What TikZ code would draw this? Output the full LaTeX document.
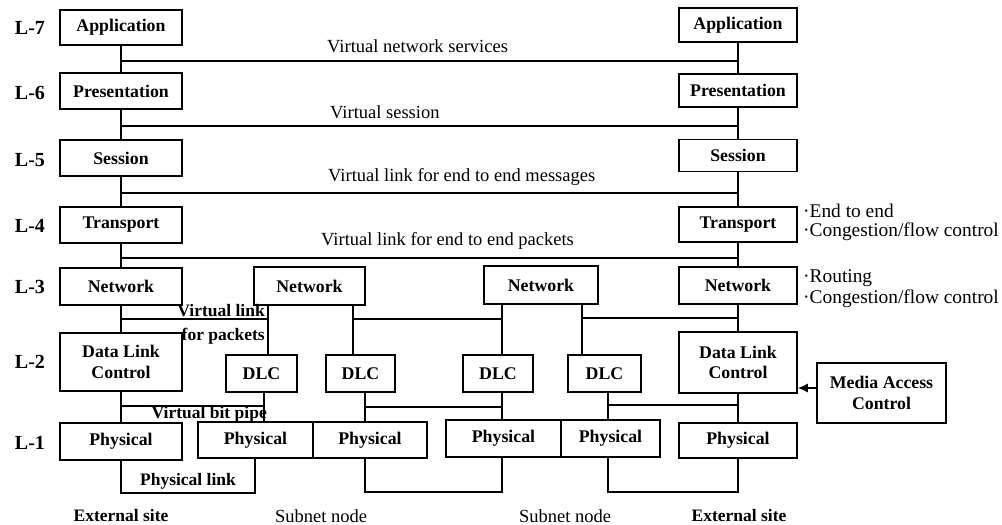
\documentclass[tikz,border=0pt]{standalone}
\usepackage{fontspec}
\setmainfont{Liberation Serif}
\usetikzlibrary{arrows.meta}
\begin{document}
\begin{tikzpicture}[x=1pt,y=-1pt,
  box/.style={draw, line width=1.5pt, inner sep=0pt, font=\fontsize{17.8}{20.5}\selectfont\bfseries, align=center},
  ln/.style={line width=1.5pt},
  lvl/.style={font=\fontsize{20}{22}\selectfont\bfseries, inner sep=0pt},
  vlab/.style={font=\fontsize{18.5}{20}\selectfont, anchor=west, inner sep=0pt},
  blab/.style={font=\fontsize{17.5}{20}\selectfont\bfseries, inner sep=0pt},
  rlab/.style={font=\fontsize{18.5}{20}\selectfont, inner sep=0pt},
  note/.style={font=\fontsize{19.4}{21}\selectfont, anchor=west, inner sep=0pt}
]
\useasboundingbox (0,0) rectangle (1002,525);

% left end system
\node[box, minimum width=122pt, minimum height=35pt] (AppL)  at (121,27.5) {Application};
\node[box, minimum width=122pt, minimum height=36pt] (PresL) at (121,91) {Presentation};
\node[box, minimum width=122pt, minimum height=36pt] (SessL) at (121,158) {Session};
\node[box, minimum width=122pt, minimum height=36pt] (TransL) at (121,225) {Transport};
\node[box, minimum width=122pt, minimum height=37pt] (NetL)  at (121,286.5) {Network};
\node[box, minimum width=122pt, minimum height=58pt] (DLCL)  at (121,362) {Data Link\\Control};
\node[box, minimum width=122pt, minimum height=37pt] (PhysL) at (121,441.5) {Physical};

% right end system
\node[box, minimum width=118pt, minimum height=34pt] (AppR)  at (738,25) {Application};
\node[box, minimum width=118pt, minimum height=33pt] (PresR) at (738,90.5) {Presentation};
\node[box, minimum width=118pt, minimum height=32pt] (SessR) at (738,155.5) {Session};
\node[box, minimum width=118pt, minimum height=35pt] (TransR) at (738,224.5) {Transport};
\node[box, minimum width=118pt, minimum height=37pt] (NetR)  at (738,285.5) {Network};
\node[box, minimum width=118pt, minimum height=61pt] (DLCR)  at (738,362.5) {Data Link\\Control};
\node[box, minimum width=118pt, minimum height=35pt] (PhysR) at (738,440.5) {Physical};

% subnet nodes
\node[box, minimum width=111pt, minimum height=38pt] (Net1) at (309.5,286) {Network};
\node[box, minimum width=114pt, minimum height=38pt] (Net2) at (541,285) {Network};
\node[box, minimum width=71pt, minimum height=37pt] (DLC1) at (261.5,373.5) {DLC};
\node[box, minimum width=69pt, minimum height=37pt] (DLC2) at (360.5,373.5) {DLC};
\node[box, minimum width=70pt, minimum height=37pt] (DLC3) at (498,373.5) {DLC};
\node[box, minimum width=73pt, minimum height=37pt] (DLC4) at (604.5,373.5) {DLC};
\node[box, minimum width=115pt, minimum height=36pt] (Phys1a) at (255.5,440) {Physical};
\node[box, minimum width=114pt, minimum height=36pt] (Phys1b) at (370,440) {Physical};
\node[box, minimum width=115pt, minimum height=37pt] (Phys2a) at (503.5,438.5) {Physical};
\node[box, minimum width=99pt, minimum height=37pt] (Phys2b) at (610.5,438.5) {Physical};

% media access control
\node[box, minimum width=129pt, minimum height=60pt] (MAC) at (881.5,393) {Media Access\\Control};

% level labels
\node[lvl] (l7) at (30,28) {L-7};
\node[lvl] (l6) at (30,93) {L-6};
\node[lvl] (l5) at (30,160) {L-5};
\node[lvl] (l4) at (30,226) {L-4};
\node[lvl] (l3) at (30,287) {L-3};
\node[lvl] (l2) at (30,362) {L-2};
\node[lvl] (l1) at (30,443) {L-1};

% vertical stacks
\foreach \a/\b in {AppL/PresL,PresL/SessL,SessL/TransL,TransL/NetL,NetL/DLCL,DLCL/PhysL,
                   AppR/PresR,PresR/SessR,SessR/TransR,TransR/NetR,NetR/DLCR,DLCR/PhysR}
  \draw[ln] (\a.south) -- (\b.north);

% virtual peer links
\draw[ln] (AppL.south |- 0,61) -- (AppR.south |- 0,61);
\draw[ln] (PresL.south |- 0,126) -- (PresR.south |- 0,126);
\draw[ln] (SessL.south |- 0,193) -- (SessR.south |- 0,193);
\draw[ln] (TransL.south |- 0,258) -- (TransR.south |- 0,258);

% network layer links
\draw[ln] (NetL.south |- 0,319) -- (268,319);
\draw[ln] (268,0 |- Net1.south) -- (268,0 |- DLC1.north);
\draw[ln] (353,0 |- Net1.south) -- (353,0 |- DLC2.north);
\draw[ln] (353,319) -- (502,319);
\draw[ln] (502,0 |- Net2.south) -- (502,0 |- DLC3.north);
\draw[ln] (582,0 |- Net2.south) -- (582,0 |- DLC4.north);
\draw[ln] (582,318) -- (NetR.south |- 0,318);

% data link layer links
\draw[ln] (DLCL.south |- 0,406) -- (264,406);
\draw[ln] (264,0 |- DLC1.south) -- (264,0 |- Phys1a.north);
\draw[ln] (365,0 |- DLC2.south) -- (365,0 |- Phys1b.north);
\draw[ln] (365,407) -- (502,407);
\draw[ln] (502,0 |- DLC3.south) -- (502,0 |- Phys2a.north);
\draw[ln] (608,0 |- DLC4.south) -- (608,0 |- Phys2b.north);
\draw[ln] (608,405) -- (DLCR.south |- 0,405);

% physical links
\draw[ln] (PhysL.south) -- (PhysL.south |- 0,493) -| (255,0 |- Phys1a.south);
\draw[ln] (365,0 |- Phys1b.south) -- (365,492) -| (502,0 |- Phys2a.south);
\draw[ln] (608,0 |- Phys2b.south) -- (608,492) -| (PhysR.south);

% MAC arrow
\draw[ln,-{Latex[length=10pt,width=9pt]}] (MAC.west |- 0,388) -- (DLCR.east |- 0,388);

% texts
\node[vlab] (t1) at (327,46) {Virtual network services};
\node[vlab] (t2) at (330,112) {Virtual session};
\node[vlab] (t3) at (328,177) {Virtual link for end to end messages};
\node[vlab] (t4) at (321,241) {Virtual link for end to end packets};
\node[blab, anchor=east] (t5) at (265,311) {Virtual link};
\node[blab, anchor=east] (t6) at (265,336) {for packets};
\node[blab, anchor=east] (t7) at (267,414) {Virtual bit pipe};
\node[blab] (t8) at (188,481) {Physical link};

\node[blab] (s1) at (121,516) {External site};
\node[rlab] (s2) at (321,516) {Subnet node};
\node[rlab] (s3) at (565,516) {Subnet node};
\node[blab] (s4) at (739,516) {External site};

\node[note] (n1) at (803,211) {·End to end};
\node[note] (n2) at (803,232) {·Congestion/flow control};
\node[note] (n3) at (803,278) {·Routing};
\node[note] (n4) at (803,299) {·Congestion/flow control};
\end{tikzpicture}
\end{document}
